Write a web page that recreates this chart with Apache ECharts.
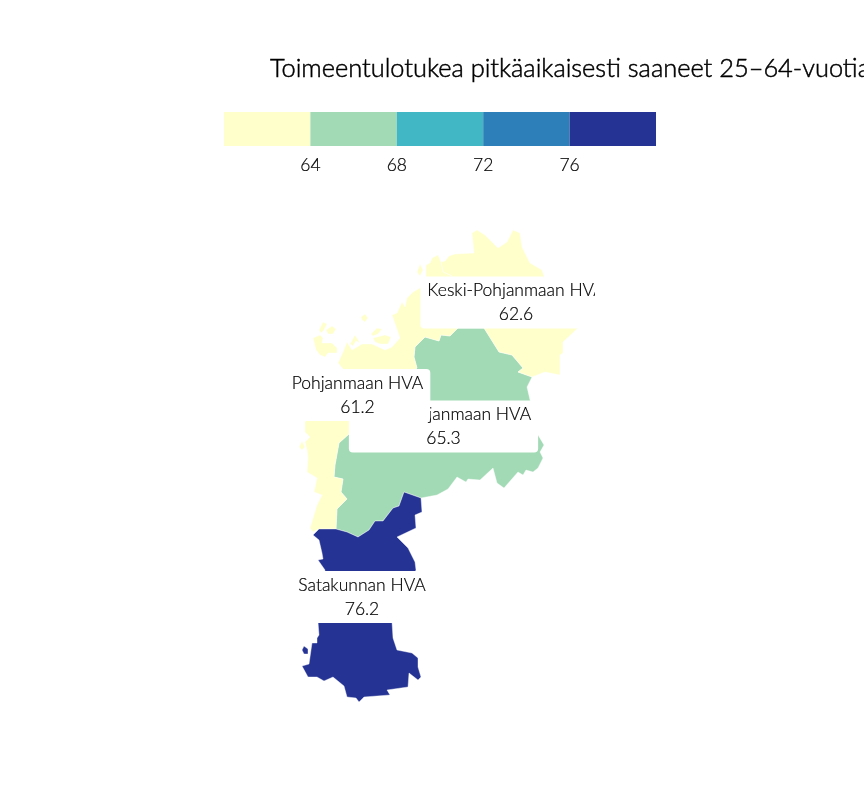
<!DOCTYPE html>
<html>
<head>
<meta charset="utf-8">
<style>html,body{margin:0;padding:0;background:#fff}#main{width:864px;height:792px}</style>
<script src="https://cdn.jsdelivr.net/npm/echarts@6/dist/echarts.min.js"></script>
</head>
<body>
<div id="main"></div>
<script>
// values
const hvaNames = ['Etelä-Pohjanmaan HVA', 'Keski-Pohjanmaan HVA', 'Pohjanmaan HVA', 'Satakunnan HVA'];
const hvaValues = [65.3, 62.6, 61.2, 76.2];
const legendBreaks = [60, 64, 68, 72, 76, 80];
const legendColors = ['#ffffcc', '#a1dab4', '#41b6c4', '#2c7fb8', '#253494'];
const titleText = 'Toimeentulotukea pitkäaikaisesti saaneet 25–64-vuotiaat';

// region outlines, [x, -y] so north stays up
const flip = pts => [pts.map(p => [p[0], -p[1]])];

const etelaOutline = [[458,328],[484,328],[499,352],[512,355],[523,368],[518,372],[532,377],[527,387],[530,400],[536,420],[538,435],[544,445],[540,452],[543,458],[538,468],[533,472],[526,470],[523,475],[518,472],[504,488],[497,483],[493,468],[480,480],[468,479],[466,482],[457,477],[448,489],[437,495],[421,498],[404,492],[399,506],[393,508],[383,521],[375,521],[369,530],[358,537],[347,532],[336,529],[337,509],[347,499],[341,492],[343,479],[334,477],[335,465],[339,443],[349,434],[360,410],[417,368],[414,357],[415,347],[425,337],[439,341],[441,335],[450,336]];
const keskiOutline = [[441,262],[445,261],[449,256],[455,254],[474,253],[472,233],[477,230],[485,235],[498,248],[507,242],[513,230],[520,233],[522,247],[530,263],[542,270],[544,276],[570,300],[578,328],[563,342],[563,353],[560,355],[560,375],[545,372],[532,377],[518,372],[523,368],[512,355],[499,352],[484,328],[458,328],[452,300],[452,276],[443,272]];
const keskiIsland = [[420,264],[423,270],[420,276],[417,272]];
const pohjanmaaOutline = [[426,277],[426,265],[430,263],[432,258],[438,255],[441,262],[443,272],[452,276],[452,300],[458,328],[450,336],[441,335],[439,341],[425,337],[415,347],[414,357],[417,368],[360,410],[349,434],[339,443],[335,465],[334,477],[343,479],[341,492],[347,499],[337,509],[336,529],[319,529],[313,532],[310,528],[317,505],[322,495],[314,492],[317,478],[307,472],[308,458],[307,450],[305,442],[310,437],[305,432],[305,422],[320,380],[343,369],[338,363],[343,352],[347,342],[352,350],[362,344],[372,344],[385,350],[392,347],[400,338],[392,315],[397,313],[402,302],[405,307],[407,298],[413,292],[420,288]];
const pohjanmaaIslands = [
  [[313,338],[320,335],[323,338],[322,343],[332,343],[337,348],[337,353],[328,353],[325,357],[320,355],[316,350]],
  [[319,330],[323,322],[327,324],[324,330],[321,333]],
  [[326,330],[332,326],[336,329],[333,334],[328,334]],
  [[361,317],[365,314],[368,318],[365,322],[362,320]],
  [[371,334],[377,328],[382,329],[378,334],[373,336]],
  [[373,338],[385,335],[391,337],[388,344],[380,344],[375,342]],
  [[350,344],[355,335],[360,343],[356,341],[353,346]],
  [[302,441],[305,447],[302,450],[299,447]]
];
const satakuntaOutline = [[313,535],[319,529],[336,529],[347,532],[358,537],[369,530],[375,521],[383,521],[393,508],[399,506],[404,492],[421,498],[422,512],[415,515],[416,528],[397,537],[408,548],[415,562],[416,570],[392,622],[393,638],[397,650],[412,653],[418,658],[418,667],[421,677],[418,680],[409,673],[408,687],[387,690],[390,695],[364,697],[359,702],[356,698],[347,697],[344,686],[333,677],[324,681],[317,677],[308,677],[302,666],[309,664],[312,643],[317,643],[317,638],[319,635],[318,622],[325,570],[318,560],[323,559],[322,553],[319,540]];
const satakuntaIsland = [[304,646],[308,649],[308,654],[304,654],[302,650]];

// label anchor for each region
const hvaLabelAt = [[443.5,426.5],[516,302.5],[357.5,395],[362,597]];

const hvaShapes = [
  [flip(etelaOutline)],
  [flip(keskiOutline), flip(keskiIsland)],
  [flip(pohjanmaaOutline)].concat(pohjanmaaIslands.map(flip)),
  [flip(satakuntaOutline), flip(satakuntaIsland)]
];

echarts.registerMap('hva', {
  type: 'FeatureCollection',
  features: hvaNames.map((name, i) => ({
    type: 'Feature',
    properties: { name: name, cp: [hvaLabelAt[i][0], -hvaLabelAt[i][1]] },
    geometry: { type: 'MultiPolygon', coordinates: hvaShapes[i] }
  }))
});

const chart = echarts.init(document.getElementById('main'), null, { renderer: 'canvas' });

const legendBars = legendColors.map((color, i) => ({
  type: 'bar',
  stack: 'legend',
  silent: true,
  barWidth: '100%',
  itemStyle: { color: color },
  data: [legendBreaks[i + 1] - legendBreaks[i]]
}));
legendBars[0].data = [legendBreaks[1]]; // stack starts from zero, axis min cuts it

chart.setOption({
  animation: false,
  textStyle: { fontFamily: 'Lato' },
  title: {
    text: titleText,
    left: 265,
    top: 51,
    textStyle: { fontFamily: 'Lato', fontSize: 25.4, fontWeight: 300, color: '#000', textBorderColor: '#000', textBorderWidth: 0.5 }
  },
  grid: { left: 224, top: 112, width: 432, height: 34 },
  xAxis: {
    type: 'value',
    min: 60,
    max: 80,
    interval: 4,
    axisLine: { show: false },
    axisTick: { show: false },
    splitLine: { show: false },
    axisLabel: {
      showMinLabel: false,
      showMaxLabel: false,
      margin: 10,
      fontFamily: 'Lato',
      fontWeight: 300,
      fontSize: 17.5,
      color: '#000',
      textBorderColor: '#000',
      textBorderWidth: 0.2
    }
  },
  yAxis: { type: 'category', data: ['legend'], show: false },
  visualMap: {
    type: 'piecewise',
    show: false,
    seriesIndex: 0,
    pieces: legendColors.map((color, i) => ({ gte: legendBreaks[i], lt: legendBreaks[i + 1], color: color }))
  },
  // the reference cuts the Keski-Pohjanmaa label off at its right end
  graphic: [{
    type: 'rect',
    z: 1000,
    silent: true,
    shape: { x: 595, y: 278, width: 20, height: 24 },
    style: { fill: '#ffffff' }
  }],
  series: [
    {
      type: 'map',
      map: 'hva',
      aspectScale: 1,
      roam: false,
      silent: true,
      left: 299,
      top: 230,
      width: 279,
      height: 472,
      itemStyle: { borderColor: '#ffffff', borderWidth: 0.4 },
      label: {
        show: true,
        formatter: '{b}\n{c}',
        fontFamily: 'Lato',
        fontWeight: 300,
        fontSize: 17.5,
        lineHeight: 24,
        color: '#000',
        textBorderColor: '#000',
        textBorderWidth: 0.2,
        backgroundColor: '#ffffff',
        borderRadius: 4,
        padding: [4, 7, 0, 7]
      },
      data: hvaNames.map((name, i) => ({ name: name, value: hvaValues[i] }))
    }
  ].concat(legendBars)
});
</script>
</body>
</html>
